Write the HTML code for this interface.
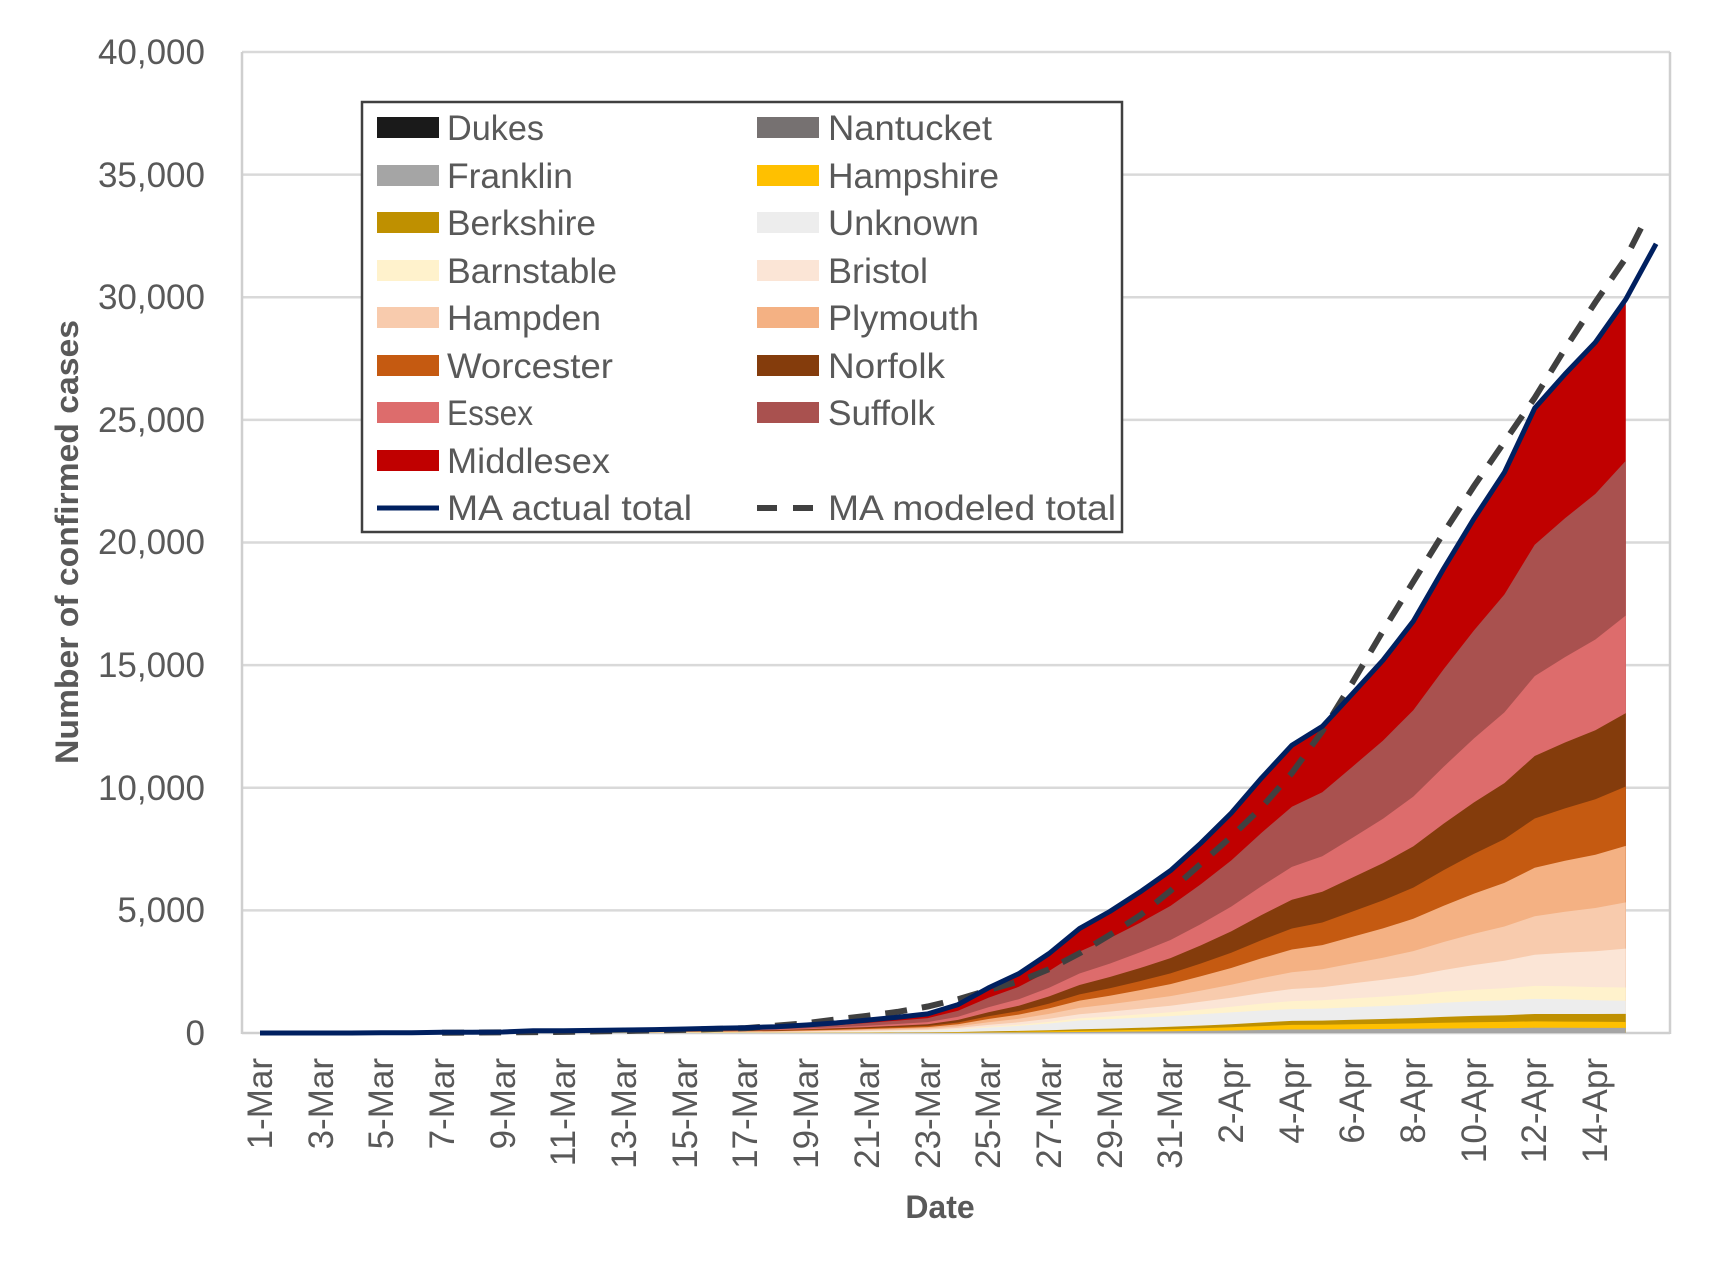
<!DOCTYPE html>
<html><head><meta charset="utf-8"><style>
html,body{margin:0;padding:0;background:#fff;}
svg{display:block;font-family:"Liberation Sans",sans-serif;}
</style></head><body>
<svg id="s" width="1727" height="1269" viewBox="0 0 1727 1269" xmlns="http://www.w3.org/2000/svg">
<rect width="1727" height="1269" fill="#fff"/>
<g stroke="#d9d9d9" stroke-width="2.5">
<line x1="242" y1="52" x2="1670" y2="52"/>
<line x1="242" y1="174.6" x2="1670" y2="174.6"/>
<line x1="242" y1="297.3" x2="1670" y2="297.3"/>
<line x1="242" y1="419.9" x2="1670" y2="419.9"/>
<line x1="242" y1="542.5" x2="1670" y2="542.5"/>
<line x1="242" y1="665.1" x2="1670" y2="665.1"/>
<line x1="242" y1="787.8" x2="1670" y2="787.8"/>
<line x1="242" y1="910.4" x2="1670" y2="910.4"/>
</g>
<g stroke="#cfcfcf" stroke-width="2.5" fill="none">
<line x1="242" y1="52" x2="242" y2="1034"/>
<line x1="1670" y1="52" x2="1670" y2="1034"/>
<line x1="242" y1="1033" x2="1670" y2="1033"/>
</g>
<g id="areas"></g>
<path id="model" fill="none" stroke="#404040" stroke-width="6" stroke-dasharray="22,15"/>
<path id="actual" fill="none" stroke="#002060" stroke-width="5" stroke-linejoin="round"/>

<g fill="#595959" font-size="35" text-anchor="end">
<text x="205" y="64">40,000</text>
<text x="205" y="187">35,000</text>
<text x="205" y="309">30,000</text>
<text x="205" y="432">25,000</text>
<text x="205" y="554">20,000</text>
<text x="205" y="677">15,000</text>
<text x="205" y="800">10,000</text>
<text x="205" y="922">5,000</text>
<text x="205" y="1045">0</text>
</g>
<g fill="#595959" font-size="35" text-anchor="end">
<text transform="translate(272,1058) rotate(-90)">1-Mar</text>
<text transform="translate(333,1058) rotate(-90)">3-Mar</text>
<text transform="translate(393,1058) rotate(-90)">5-Mar</text>
<text transform="translate(454,1058) rotate(-90)">7-Mar</text>
<text transform="translate(515,1058) rotate(-90)">9-Mar</text>
<text transform="translate(575,1058) rotate(-90)">11-Mar</text>
<text transform="translate(636,1058) rotate(-90)">13-Mar</text>
<text transform="translate(697,1058) rotate(-90)">15-Mar</text>
<text transform="translate(757,1058) rotate(-90)">17-Mar</text>
<text transform="translate(818,1058) rotate(-90)">19-Mar</text>
<text transform="translate(879,1058) rotate(-90)">21-Mar</text>
<text transform="translate(940,1058) rotate(-90)">23-Mar</text>
<text transform="translate(1000,1058) rotate(-90)">25-Mar</text>
<text transform="translate(1061,1058) rotate(-90)">27-Mar</text>
<text transform="translate(1122,1058) rotate(-90)">29-Mar</text>
<text transform="translate(1182,1058) rotate(-90)">31-Mar</text>
<text transform="translate(1243,1058) rotate(-90)">2-Apr</text>
<text transform="translate(1304,1058) rotate(-90)">4-Apr</text>
<text transform="translate(1364,1058) rotate(-90)">6-Apr</text>
<text transform="translate(1425,1058) rotate(-90)">8-Apr</text>
<text transform="translate(1486,1058) rotate(-90)">10-Apr</text>
<text transform="translate(1546,1058) rotate(-90)">12-Apr</text>
<text transform="translate(1607,1058) rotate(-90)">14-Apr</text>
</g>
<text x="940" y="1218" text-anchor="middle" font-size="32" font-weight="bold" fill="#595959">Date</text>
<text transform="translate(78,542) rotate(-90)" text-anchor="middle" font-size="32" font-weight="bold" fill="#595959" textLength="444" lengthAdjust="spacingAndGlyphs">Number of confirmed cases</text>

<rect x="362" y="102" width="760" height="430" fill="#fff" stroke="#404040" stroke-width="2.5"/>
<g>
<rect x="377" y="117" width="62" height="21" fill="#1a1a1a"/>
<rect x="377" y="165" width="62" height="21" fill="#a5a5a5"/>
<rect x="377" y="212" width="62" height="21" fill="#bf9000"/>
<rect x="377" y="260" width="62" height="21" fill="#fff2cc"/>
<rect x="377" y="307" width="62" height="21" fill="#f8cbad"/>
<rect x="377" y="355" width="62" height="21" fill="#c55a11"/>
<rect x="377" y="402" width="62" height="21" fill="#dd6c6c"/>
<rect x="377" y="450" width="62" height="21" fill="#c00000"/>
<line x1="377" y1="508" x2="439" y2="508" stroke="#002060" stroke-width="5"/>
<rect x="757" y="117" width="62" height="21" fill="#767171"/>
<rect x="757" y="165" width="62" height="21" fill="#ffc000"/>
<rect x="757" y="212" width="62" height="21" fill="#ededed"/>
<rect x="757" y="260" width="62" height="21" fill="#fbe5d6"/>
<rect x="757" y="307" width="62" height="21" fill="#f4b183"/>
<rect x="757" y="355" width="62" height="21" fill="#843c0c"/>
<rect x="757" y="402" width="62" height="21" fill="#a9514f"/>
<line x1="757" y1="508" x2="819" y2="508" stroke="#404040" stroke-width="6" stroke-dasharray="20,16"/>
</g>
<g fill="#595959" font-size="35">
<text x="447" y="140" textLength="97" lengthAdjust="spacingAndGlyphs">Dukes</text>
<text x="447" y="188" textLength="126" lengthAdjust="spacingAndGlyphs">Franklin</text>
<text x="447" y="235" textLength="149" lengthAdjust="spacingAndGlyphs">Berkshire</text>
<text x="447" y="283" textLength="170" lengthAdjust="spacingAndGlyphs">Barnstable</text>
<text x="447" y="330" textLength="154" lengthAdjust="spacingAndGlyphs">Hampden</text>
<text x="447" y="378" textLength="166" lengthAdjust="spacingAndGlyphs">Worcester</text>
<text x="447" y="425" textLength="86" lengthAdjust="spacingAndGlyphs">Essex</text>
<text x="447" y="473" textLength="163" lengthAdjust="spacingAndGlyphs">Middlesex</text>
<text x="447" y="520" textLength="245" lengthAdjust="spacingAndGlyphs">MA actual total</text>
<text x="828" y="140" textLength="164" lengthAdjust="spacingAndGlyphs">Nantucket</text>
<text x="828" y="188" textLength="171" lengthAdjust="spacingAndGlyphs">Hampshire</text>
<text x="828" y="235" textLength="151" lengthAdjust="spacingAndGlyphs">Unknown</text>
<text x="828" y="283" textLength="100" lengthAdjust="spacingAndGlyphs">Bristol</text>
<text x="828" y="330" textLength="151" lengthAdjust="spacingAndGlyphs">Plymouth</text>
<text x="828" y="378" textLength="117" lengthAdjust="spacingAndGlyphs">Norfolk</text>
<text x="828" y="425" textLength="107" lengthAdjust="spacingAndGlyphs">Suffolk</text>
<text x="828" y="520" textLength="288" lengthAdjust="spacingAndGlyphs">MA modeled total</text>
</g>
</svg>
<script>
(function(){
var tot=[1,1,1,2,7,8,28,28,41,92,95,108,123,138,164,197,218,256,328,413,525,646,777,1159,1838,2417,3240,4257,4955,5752,6620,7738,8966,10402,11736,12500,13837,15202,16790,18941,20974,22860,25475,26867,28163,29918,32181];
var X=function(i){return 260+30.35*i;}, Y=function(v){return 1033-v*0.024525;};
var colors=["#a5a5a5","#ffc000","#bf9000","#ededed","#fff2cc","#fbe5d6","#f8cbad","#f4b183","#c55a11","#843c0c","#dd6c6c","#a9514f","#c00000"];
var A=[.005,.01,.02,.035,.12,.14,.18,.24,.31,.37,.46,.57,.78,1];
var B=[.006,.012,.028,.042,.083,.111,.153,.211,.29,.363,.463,.577,.786,1];
var Cn=[.003,.007,.015,.026,.044,.062,.115,.178,.255,.336,.436,.569,.78,1];
function frac(i,k){
 var a,b,t;
 if(i<=27){return A[k+1];}
 if(i<=34){t=(i-27)/7;a=A[k+1];b=B[k+1];}
 else{t=(i-34)/11;a=B[k+1];b=Cn[k+1];}
 return a+(b-a)*t;
}
var g=document.getElementById('areas'),ns="http://www.w3.org/2000/svg";
var N=45;
for(var k=12;k>=0;k--){
 var d="M"+X(0)+","+Y(0);
 for(var i=0;i<=N;i++){d+=" L"+X(i).toFixed(1)+","+Y(tot[i]*frac(i,k)).toFixed(1);}
 d+=" L"+X(N)+","+Y(0)+" Z";
 var p=document.createElementNS(ns,"path");p.setAttribute("d",d);p.setAttribute("fill",colors[k]);g.appendChild(p);
}
var d="";
for(var i=0;i<=46;i++){d+=(i?" L":"M")+X(i).toFixed(1)+","+Y(tot[i]).toFixed(1);}
document.getElementById('actual').setAttribute("d",d);
var m={6:10,8:25,10:45,12:80,14:125,16:200,18:400,19:560,20:700,21:860,22:1080,23:1380,24:1750,25:2100,26:2600,27:3250,28:4000,29:4800,30:5800,31:6900,32:8000,33:9200,34:10600,35:12300,36:14300,37:16400,38:18400,39:20400,40:22300,41:24100,42:25900,43:27900,44:29800,45:31600,45.7:33300};
d="";var first=true;
for(var key in m){var i=+key;d+=(first?"M":" L")+X(i).toFixed(1)+","+Y(m[key]).toFixed(1);first=false;}
document.getElementById('model').setAttribute("d",d);
})();
</script>
</body></html>
